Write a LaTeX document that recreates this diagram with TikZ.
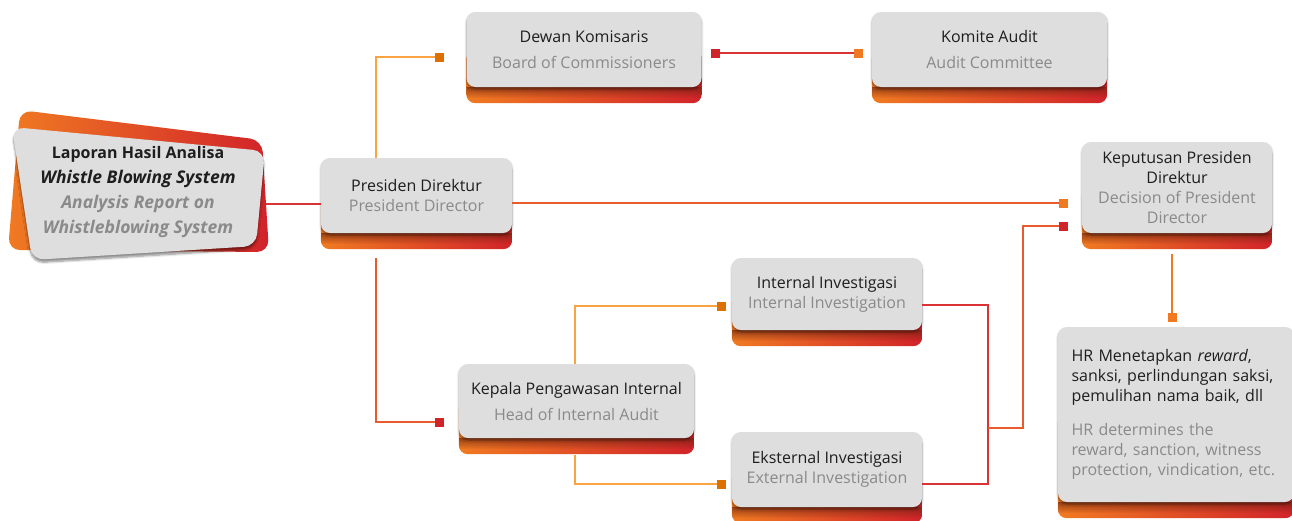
\documentclass[tikz,border=0pt]{standalone}
\usepackage{fontspec}
\setmainfont{Open Sans}
\usetikzlibrary{arrows.meta,backgrounds,shadows.blur,fadings}
\definecolor{abu}{HTML}{DEDEDE}
\definecolor{abutua}{HTML}{8A8A8A}
\definecolor{hitam}{HTML}{1E1E1E}
\definecolor{oranye}{HTML}{F07A22}
\definecolor{merah}{HTML}{D1232A}
\definecolor{coklat}{HTML}{6E2410}
\definecolor{oranyemuda}{HTML}{F9A440}
\definecolor{oranyetua}{HTML}{DC7000}
\definecolor{merahgaris}{HTML}{DB3236}
\definecolor{oranyemerah}{HTML}{E95A2C}
\tikzfading[name=pudar,top color=transparent!35,bottom color=transparent!100]
\begin{document}
\begin{tikzpicture}[x=1pt,y=-1pt,
    kotak/.style={fill=abu,rounded corners=9pt,align=center,text=hitam,
        minimum width=190pt,minimum height=75pt,inner sep=3pt,
        font=\fontsize{16}{20}\selectfont,
        blur shadow={shadow xshift=0pt,shadow yshift=-2pt,shadow blur steps=6,shadow opacity=40}},
    lebar/.style={minimum width=235pt},
    garis/.style={line width=1.8pt},
    sq/.tip={Square[length=9pt,width=9pt]}]
\useasboundingbox (0,0) rectangle (1292,520);

\shade[left color=oranye,right color=merah,rounded corners=12pt](20,110)--(262,140)--(269,252)--(8,250)--cycle;
\fill[abu,rounded corners=12pt,blur shadow={shadow xshift=0pt,shadow yshift=-3pt,shadow blur steps=6,shadow opacity=45}](12,127)--(265,151)--(256,246)--(32,260)--cycle;
\node[font=\bfseries\fontsize{16}{24.8}\selectfont,align=center,text=hitam](lap) at (138,192)
    {Laporan Hasil Analisa\\{\fontsize{17.5}{24.8}\selectfont\textit{Whistle Blowing System}}\\
    \textcolor{abutua}{\fontsize{17.5}{24.8}\selectfont\textit{Analysis Report on}}\\
    \textcolor{abutua}{\fontsize{17.5}{24.8}\selectfont\textit{Whistleblowing System}}};
\coordinate (lapkanan) at (266,204);

\node[kotak,lebar](dk) at (584,49.5){Dewan Komisaris\\[6pt]\textcolor{abutua}{Board of Commissioners}};
\node[kotak,lebar](ka) at (989.5,49.5){Komite Audit\\[6pt]\textcolor{abutua}{Audit Committee}};
\node[kotak,minimum width=191pt](pd) at (416.5,195.5){Presiden Direktur\\\textcolor{abutua}{President Director}};
\node[kotak,minimum height=91pt](kp) at (1177,187.5){Keputusan Presiden\\Direktur\\\textcolor{abutua}{Decision of President}\\\textcolor{abutua}{Director}};
\node[kotak,minimum height=72pt](ii) at (827,294){Internal Investigasi\\\textcolor{abutua}{Internal Investigation}};
\node[kotak,lebar,minimum height=74pt](kpi) at (576.5,401){Kepala Pengawasan Internal\\[6pt]\textcolor{abutua}{Head of Internal Audit}};
\node[kotak](ei) at (827,469.5){Eksternal Investigasi\\\textcolor{abutua}{External Investigation}};
\node[kotak,minimum width=236pt,minimum height=175pt,text width=209pt,align=left](hr) at (1176,414.5)
    {HR Menetapkan \textit{reward},\\sanksi, perlindungan saksi,\\pemulihan nama baik, dll\\[14pt]
    \textcolor{abutua}{HR determines the}\\\textcolor{abutua}{reward, sanction, witness}\\\textcolor{abutua}{protection, vindication, etc.}};

\begin{scope}[on background layer]
\foreach \n in {dk,ka,pd,kp,ii,kpi,ei,hr}{
    \begin{scope}
    \clip[rounded corners=9pt](\n.west) rectangle ([yshift=-16pt]\n.south east);
    \shade[left color=oranye,right color=merah](\n.west) rectangle ([yshift=-16pt]\n.south east);
    \fill[coklat,path fading=pudar](\n.south west) rectangle ([yshift=-11pt]\n.south east);
    \end{scope}}
\end{scope}

\coordinate (sambung) at (988,428);
\coordinate (belok) at (1023,428);
\draw[garis,merahgaris](lapkanan)--(pd.west |- lapkanan);
\draw[garis,oranyemuda,-{sq[color=oranyetua]},shorten >=22pt](pd.north -| 376,0) |- (dk.west |- 0,57);
\draw[garis,oranyemerah,-{sq[color=merah]},shorten <=25pt,shorten >=15pt](pd.south -| 376,0) |- (kpi.west |- 0,422);
\draw[garis,merahgaris,{sq[color=merah]}-{sq[color=oranye]},shorten <=9pt,shorten >=9pt](dk.east |- 0,53)--(ka.west |- 0,53);
\draw[garis,oranyemerah,-{sq[color=oranye]},shorten >=14pt](pd.east |- 0,203)--(kp.west |- 0,203);
\draw[garis,oranyemuda,-{sq[color=oranyetua]},shorten >=6pt](kpi.north -| 575,0) |- (ii.west |- 0,306);
\draw[garis,oranyemuda,-{sq[color=oranyetua]},shorten <=17pt,shorten >=6pt](kpi.south -| 575,0) |- (ei.west |- 0,484);
\draw[garis,merahgaris](ii.east |- 0,305) -| (sambung) |- (ei.east |- 0,484);
\draw[garis,oranyemerah,-{sq[color=merah]},shorten >=14pt](sambung)--(belok) |- (kp.west |- 0,226);
\draw[garis,oranye,-{sq[color=oranye]},shorten <=21pt,shorten >=5pt](kp.south -| 1172,0)--(hr.north -| 1172,0);
\end{tikzpicture}
\end{document}
